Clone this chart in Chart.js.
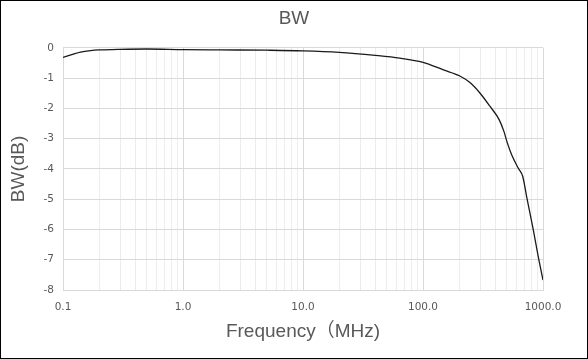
<!DOCTYPE html>
<html>
<head>
<meta charset="utf-8">
<script src="https://cdn.jsdelivr.net/npm/chart.js@4/dist/chart.umd.min.js"></script>
<style>
  html, body { margin: 0; padding: 0; background: #fff; }
  #wrap { width: 588px; height: 359px; position: relative; }
</style>
</head>
<body>
<div id="wrap"><canvas id="bwChart"></canvas></div>
<script>
// frequency points (MHz) and measured bandwidth response (dB)
const freqMHz = [0.1, 0.12, 0.14, 0.17, 0.2, 0.3, 0.5, 1, 2, 5, 10, 20, 40, 64, 100, 148, 203, 246, 299, 361, 432, 473, 505, 549, 623, 678, 731, 831, 913, 1000];
const bwDb = [-0.32, -0.22, -0.14, -0.09, -0.07, -0.05, -0.04, -0.06, -0.07, -0.08, -0.1, -0.15, -0.25, -0.34, -0.48, -0.73, -0.93, -1.15, -1.5, -1.93, -2.38, -2.77, -3.15, -3.54, -3.98, -4.25, -4.92, -6.02, -6.9, -7.67];

const decadeTicks = [0.1, 1, 10, 100, 1000];
const decadeLabels = ['0.1', '1.0', '10.0', '100.0', '1000.0'];

const textColor = '#595959';
const latin = "'Liberation Sans', 'Noto Sans CJK JP', sans-serif";
const tickFont = "'DejaVu Sans', sans-serif";

function isDecade(v) {
  const l = Math.log10(v);
  return Math.abs(l - Math.round(l)) < 1e-6;
}

const borderPlugin = {
  id: 'outerBorder',
  afterDraw(chart) {
    const ctx = chart.ctx;
    ctx.save();
    ctx.strokeStyle = '#000';
    ctx.lineWidth = 1;
    ctx.strokeRect(0.5, 0.5, chart.width - 1, chart.height - 1);
    ctx.restore();
  }
};

const ctx = document.getElementById('bwChart').getContext('2d');
new Chart(ctx, {
  type: 'scatter',
  data: {
    datasets: [{
      label: 'BW',
      data: freqMHz.map((f, i) => ({ x: f, y: bwDb[i] })),
      showLine: true,
      borderColor: '#1a1a1a',
      borderWidth: 1.3,
      pointRadius: 0,
      tension: 0.3,
      cubicInterpolationMode: 'monotone'
    }]
  },
  options: {
    responsive: true,
    maintainAspectRatio: false,
    animation: false,
    layout: { padding: 0 },
    plugins: {
      legend: { display: false },
      tooltip: { enabled: false },
      title: {
        display: true,
        text: 'BW',
        color: textColor,
        font: { family: latin, size: 19, weight: 'normal' },
        padding: { top: 7, bottom: 18 }
      }
    },
    scales: {
      x: {
        type: 'logarithmic',
        min: 0.1,
        max: 1000,
        afterFit(scale) { scale.height = 69; },
        afterBuildTicks(scale) {
          const t = [];
          for (let d = -1; d < 3; d++) {
            for (let m = 1; m < 10; m++) t.push({ value: m * Math.pow(10, d) });
          }
          t.push({ value: 1000 });
          scale.ticks = t;
        },
        ticks: {
          autoSkip: false,
          maxRotation: 0,
          color: textColor,
          padding: 11,
          font: { family: tickFont, size: 10.5 },
          callback(v) {
            const i = decadeTicks.findIndex(d => Math.abs(d - v) < 1e-9);
            return i >= 0 ? decadeLabels[i] : '';
          }
        },
        grid: {
          drawTicks: false,
          color(c) {
            return c.tick && isDecade(c.tick.value) ? '#d9d9d9' : '#ececec';
          }
        },
        border: { color: '#d9d9d9' },
        title: {
          display: true,
          text: 'Frequency（MHz)',
          color: textColor,
          font: { family: latin, size: 19 },
          padding: { top: 0, bottom: 16 }
        }
      },
      y: {
        min: -8,
        max: 0,
        afterFit(scale) { scale.width = 63; },
        ticks: {
          stepSize: 1,
          color: textColor,
          padding: 9,
          font: { family: tickFont, size: 10.5 }
        },
        grid: { drawTicks: false, color: '#d9d9d9' },
        border: { color: '#d9d9d9' },
        title: {
          display: true,
          text: 'BW(dB)',
          color: textColor,
          font: { family: latin, size: 19 },
          padding: { top: 7, bottom: 0 }
        }
      },
      // empty right-side spacer so the title stays centred on the whole chart
      yRight: {
        position: 'right',
        min: -8,
        max: 0,
        afterFit(scale) { scale.width = 45; },
        ticks: { display: false },
        grid: { display: false, drawTicks: false },
        border: { display: false }
      }
    }
  },
  plugins: [borderPlugin]
});
</script>
</body>
</html>
